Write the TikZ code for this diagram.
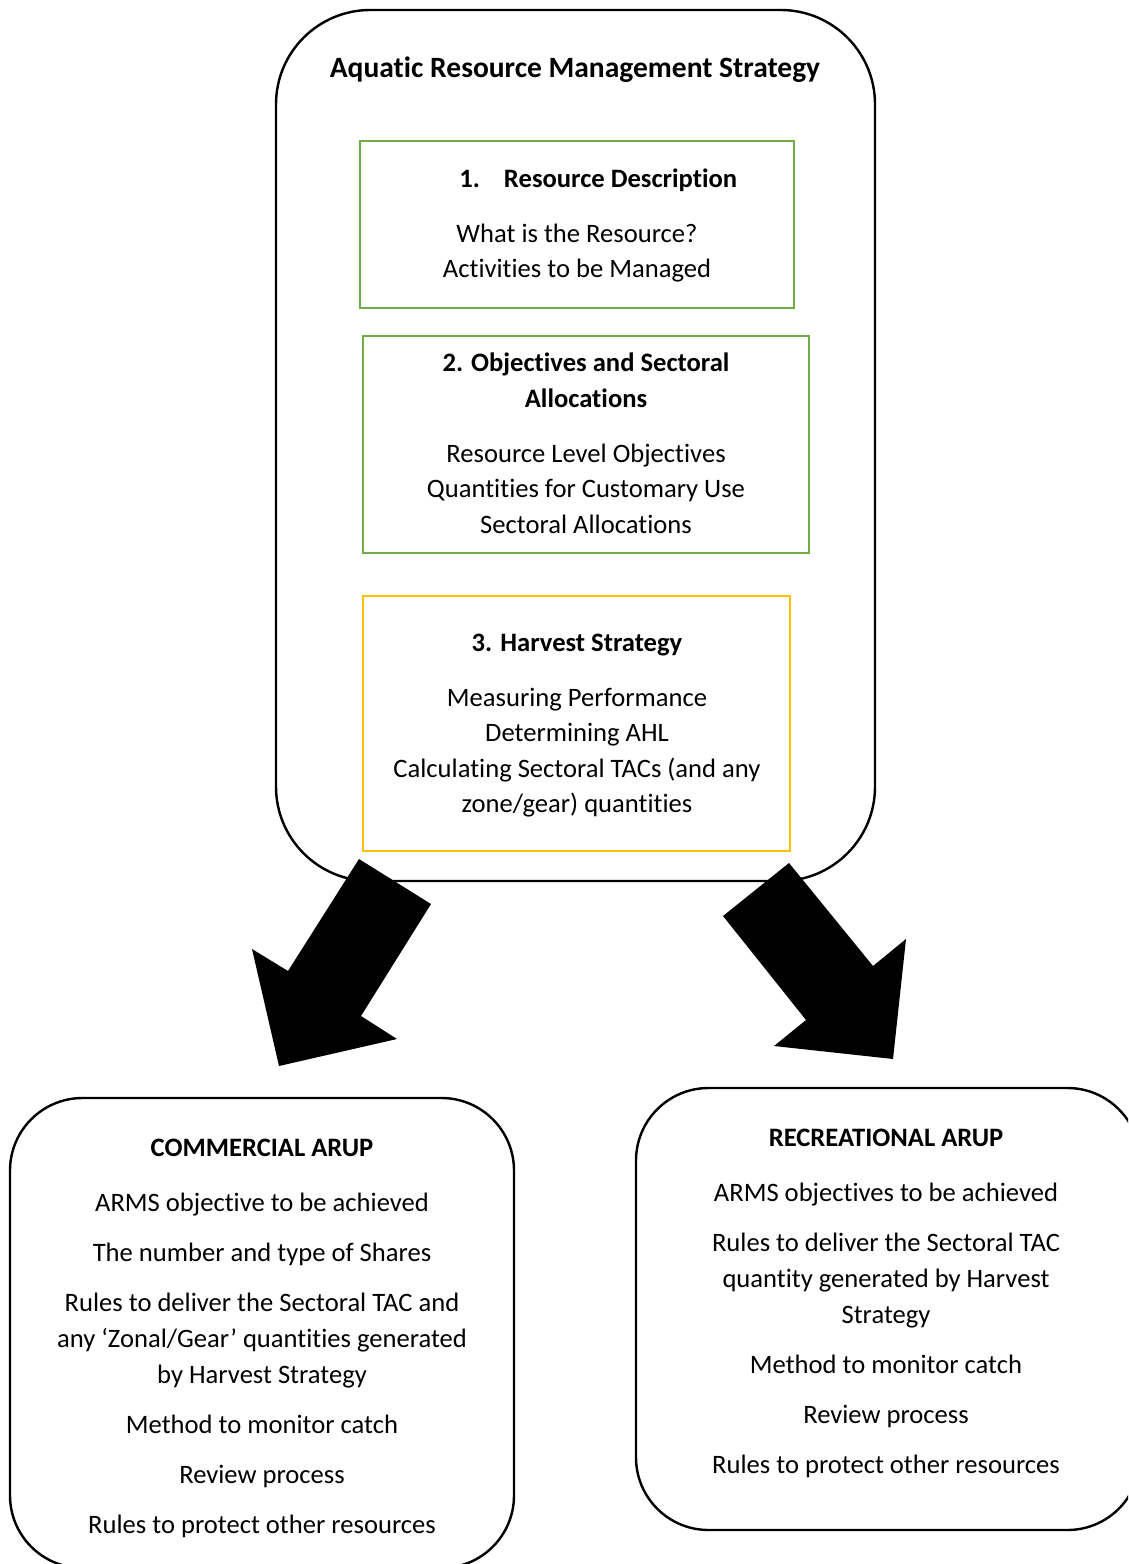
\documentclass[tikz,border=0pt]{standalone}
\usepackage{fontspec}
\setmainfont{Carlito}[Ligatures=NoCommon]
\usepackage{tikz}
\definecolor{boxgreen}{HTML}{70AD47}
\definecolor{boxgold}{HTML}{FFC000}

\begin{document}
\begin{tikzpicture}[x=0.4135pt,y=-0.4135pt,
  body/.style={anchor=base,inner sep=0pt,font=\fontsize{11}{13}\selectfont},
  head/.style={body,font=\fontsize{11}{13}\selectfont\bfseries},
  outline/.style={draw=black,line width=1pt},
  stagebox/.style={line width=1pt}]
\useasboundingbox (0,0) rectangle (1128,1564);
\clip (0,0) rectangle (1128,1564);
\fill[white] (0,0) rectangle (1128,1564);
% Drawing the strategy box
\draw[outline,rounded corners=39pt] (276,10) rectangle (875,881);
\node[head,font=\fontsize{12.2}{14}\selectfont\bfseries] (armstitle) at (575,78) {Aquatic Resource Management Strategy};
% Stage 1: resource description
\draw[stagebox,boxgreen] (360,141) rectangle (794,308);
\node[head,anchor=base west] (rdtitle) at (459,188) {1.\hspace{9.9pt}Resource Description};
\node[body] (rdone) at (577,243) {What is the Resource?};
\node[body] (rdtwo) at (577,278) {Activities to be Managed};
% Stage 2: objectives and allocations
\draw[stagebox,boxgreen] (363,336) rectangle (809,553);
\node[head] (objtitle) at (586,372) {2. Objectives and Sectoral};
\node[head] (objtitlb) at (586,408) {Allocations};
\node[body] (objone) at (586,463) {Resource Level Objectives};
\node[body] (objtwo) at (586,498) {Quantities for Customary Use};
\node[body] (objthree) at (586,534) {Sectoral Allocations};
% Stage 3: harvest strategy
\draw[stagebox,boxgold] (363,596) rectangle (790,851);
\node[head] (hstitle) at (577,651) {3. Harvest Strategy};
\node[body] (hsone) at (577,706) {Measuring Performance};
\node[body] (hstwo) at (577,741) {Determining AHL};
\node[body] (hsthree) at (577,777) {Calculating Sectoral TACs (and any};
\node[body] (hsfour) at (577,812) {zone/gear) quantities};
% Done with the strategy box; drawing block arrows
\fill[black] (359,859) -- (431,904) -- (361,1016) -- (397,1039) -- (279,1066) -- (252,949) -- (288,971) -- cycle;
\fill[black] (789,863) -- (723,916) -- (806,1020) -- (774,1046) -- (893,1059) -- (906,939) -- (873,966) -- cycle;
% Commercial ARUP
\draw[outline,rounded corners=30pt] (10,1098) rectangle (514,1568);
\node[head] (comtitle) at (262,1156) {COMMERCIAL ARUP};
\node[body] (comone) at (262,1211) {ARMS objective to be achieved};
\node[body] (comtwo) at (262,1261) {The number and type of Shares};
\node[body] (comthree) at (262,1311) {Rules to deliver the Sectoral TAC and};
\node[body] (comfour) at (262,1347) {any ‘Zonal/Gear’ quantities generated};
\node[body] (comfive) at (262,1383) {by Harvest Strategy};
\node[body] (comsix) at (262,1433) {Method to monitor catch};
\node[body] (comseven) at (262,1483) {Review process};
\node[body] (comeight) at (262,1533) {Rules to protect other resources};
% Recreational ARUP
\draw[outline,rounded corners=30pt] (636,1088) rectangle (1140,1530);
\node[head] (rectitle) at (886,1146) {RECREATIONAL ARUP};
\node[body] (recone) at (886,1201) {ARMS objectives to be achieved};
\node[body] (rectwo) at (886,1251) {Rules to deliver the Sectoral TAC};
\node[body] (recthree) at (886,1287) {quantity generated by Harvest};
\node[body] (recfour) at (886,1323) {Strategy};
\node[body] (recfive) at (886,1373) {Method to monitor catch};
\node[body] (recsix) at (886,1423) {Review process};
\node[body] (recseven) at (886,1473) {Rules to protect other resources};
% Done
\end{tikzpicture}
\end{document}
